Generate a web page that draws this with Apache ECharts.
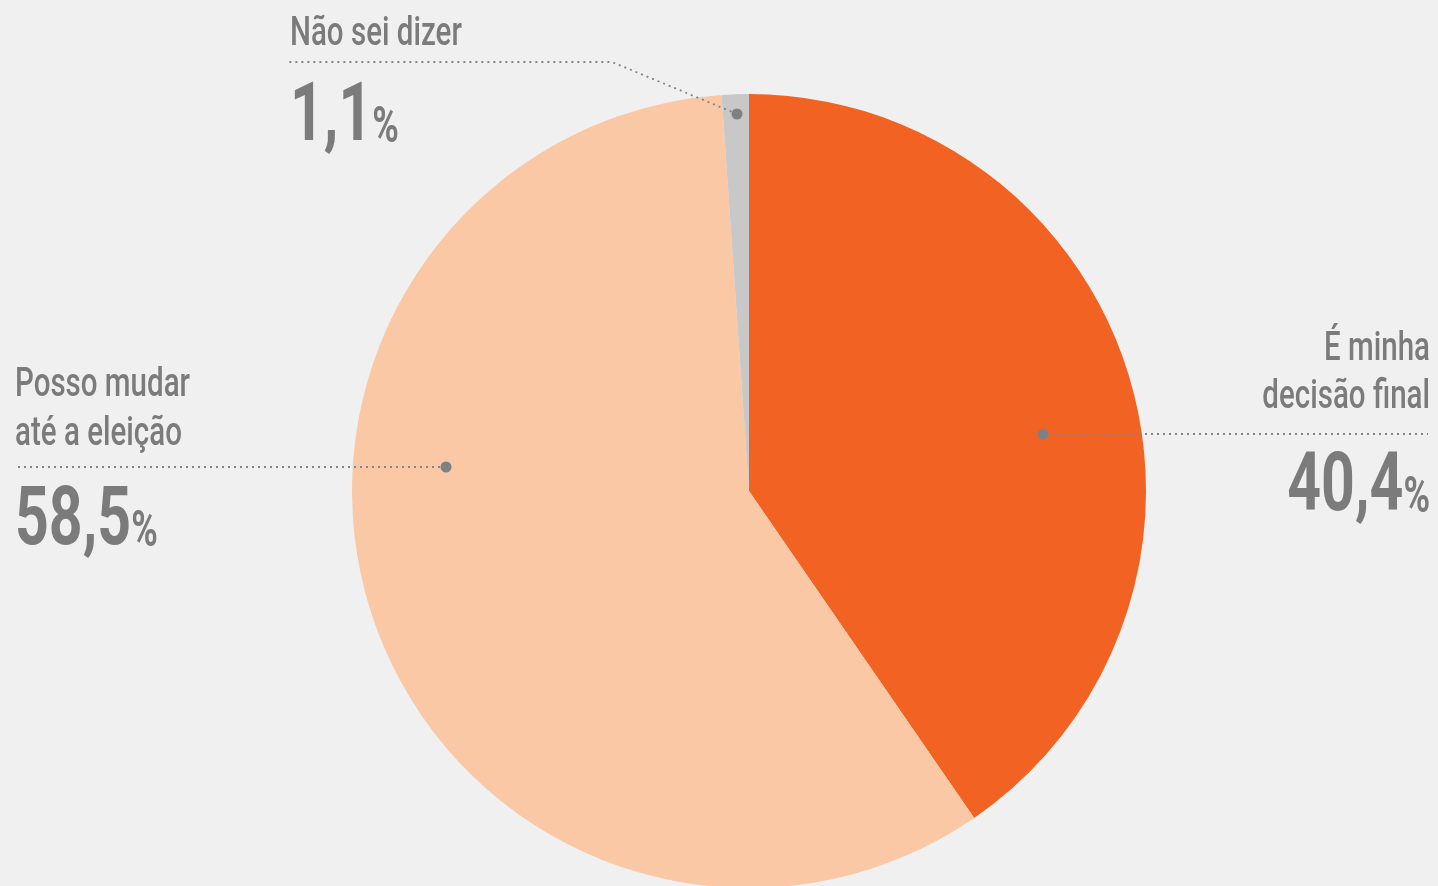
<!doctype html>
<html>
<head>
<meta charset="utf-8">
<title>Decisão de voto</title>
<script src="https://cdn.jsdelivr.net/npm/echarts@6/dist/echarts.min.js"></script>
<style>
  html, body { margin: 0; padding: 0; background: #f0f0f0; }
  #chart { width: 1438px; height: 886px; }
</style>
</head>
<body>
<div id="chart"></div>
<script>
// dados
var categories = ['É minha\ndecisão final', 'Posso mudar\naté a eleição', 'Não sei dizer'];
var values = [40.4, 58.5, 1.1];
var colors = ['#f26323', '#fac8a5', '#c8c8c8'];

// rótulos: pontos da linha guia (ponto na fatia primeiro), linhas de base do texto, alinhamento
var labelPos = [
  { pts: [[1043, 434], [1428, 434]], x: 1430, names: [362, 410], num: 513, align: 'right' },
  { pts: [[446, 467], [15, 467]], x: 15, names: [398, 447], num: 547, align: 'left' },
  { pts: [[737, 114], [612, 62], [287, 62]], x: 290, names: [47], num: 143, align: 'left' }
];

var textColor = '#7b7b7b';
var fam = 'Roboto, "Noto Sans", sans-serif';
var squeeze = 0.72;
var nameFont = '500 41px ' + fam;
var numFont = 'bold 82px ' + fam;
var pctFont = 'bold 50px ' + fam;

var ctx = document.createElement('canvas').getContext('2d');
function textW(t, f) { ctx.font = f; return ctx.measureText(t).width; }
// y para textVerticalAlign 'middle' a partir da linha de base
function midY(base, size) { return base - 0.29 * size; }

var chart = echarts.init(document.getElementById('chart'));

var data = [];
for (var i = 0; i < values.length; i++) {
  data.push({ name: categories[i], value: values[i], itemStyle: { color: colors[i] } });
}

var graphics = [];
labelPos.forEach(function (lp, i) {
  graphics.push({
    type: 'polyline',
    shape: { points: lp.pts },
    style: { stroke: '#848484', lineWidth: 1.8, lineDash: [2, 4], fill: null },
    z: 100
  });
  graphics.push({
    type: 'circle',
    shape: { cx: lp.pts[0][0], cy: lp.pts[0][1], r: 5.5 },
    style: { fill: '#7f8083' },
    z: 101
  });
  var kids = [];
  categories[i].split('\n').forEach(function (s, k) {
    kids.push({
      type: 'text', x: 0, y: midY(lp.names[k], 41),
      style: { text: s, fill: textColor, font: nameFont, textAlign: lp.align, textVerticalAlign: 'middle' }
    });
  });
  var num = String(values[i]).replace('.', ',');
  var numX, pctX;
  if (lp.align === 'left') {
    numX = 0;
    pctX = textW(num, numFont);
  } else {
    pctX = 0;
    numX = -textW('%', pctFont);
  }
  kids.push({
    type: 'text', x: numX, y: midY(lp.num, 82),
    style: { text: num, fill: textColor, font: numFont, textAlign: lp.align, textVerticalAlign: 'middle' }
  });
  kids.push({
    type: 'text', x: pctX, y: midY(lp.num + 1, 50),
    style: { text: '%', fill: textColor, font: pctFont, textAlign: lp.align, textVerticalAlign: 'middle' }
  });
  graphics.push({ type: 'group', x: lp.x, y: 0, scaleX: squeeze, children: kids, z: 102 });
});

chart.setOption({
  backgroundColor: '#f0f0f0',
  animation: false,
  series: [{
    type: 'pie',
    center: [749, 491],
    radius: 397,
    startAngle: 90,
    clockwise: true,
    data: data,
    itemStyle: { borderWidth: 0 },
    label: { show: false },
    labelLine: { show: false }
  }],
  graphic: graphics
});
</script>
</body>
</html>
